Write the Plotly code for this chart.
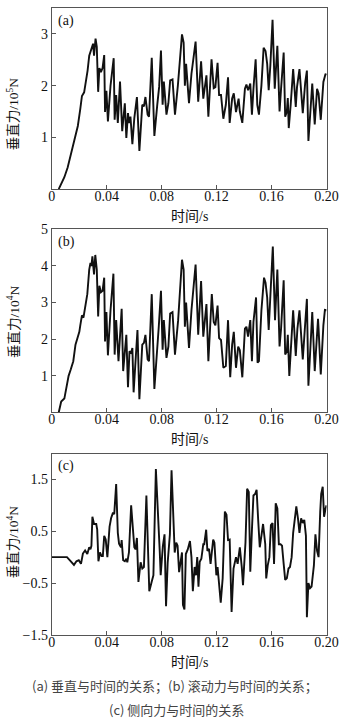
import plotly.graph_objects as go

# Time samples (s) and forces for the three panels
t_a = [0.0051, 0.0092, 0.0116, 0.0150, 0.0190, 0.0208, 0.0220, 0.0236, 0.0250, 0.0261, 0.0273, 0.0289,
       0.0301, 0.0308, 0.0319, 0.0328, 0.0338, 0.0347, 0.0358, 0.0370, 0.0382, 0.0388, 0.0398, 0.0409,
       0.0428, 0.0451, 0.0458, 0.0469, 0.0481, 0.0497, 0.0513, 0.0532, 0.0543, 0.0555, 0.0562, 0.0573,
       0.0587, 0.0601, 0.0620, 0.0638, 0.0659, 0.0671, 0.0682, 0.0698, 0.0708, 0.0728, 0.0747, 0.0768,
       0.0782, 0.0795, 0.0807, 0.0816, 0.0835, 0.0849, 0.0862, 0.0879, 0.0897, 0.0918, 0.0948, 0.0960,
       0.0969, 0.0978, 0.0999, 0.1017, 0.1047, 0.1066, 0.1087, 0.1103, 0.1126, 0.1140, 0.1163, 0.1179,
       0.1191, 0.1207, 0.1218, 0.1232, 0.1249, 0.1267, 0.1283, 0.1295, 0.1313, 0.1325, 0.1341, 0.1360,
       0.1369, 0.1387, 0.1406, 0.1417, 0.1429, 0.1445, 0.1457, 0.1468, 0.1484, 0.1496, 0.1508, 0.1526,
       0.1542, 0.1556, 0.1568, 0.1579, 0.1591, 0.1607, 0.1623, 0.1642, 0.1658, 0.1669, 0.1688, 0.1699,
       0.1711, 0.1718, 0.1725, 0.1739, 0.1757, 0.1776, 0.1785, 0.1803, 0.1817, 0.1827, 0.1845, 0.1857,
       0.1868, 0.1880, 0.1896, 0.1914, 0.1931, 0.1942, 0.1958, 0.1977, 0.1993, 0.2000]
force_a = [0.00, 0.23, 0.42, 0.77, 1.22, 1.55, 1.80, 1.87, 2.07, 2.29, 2.58, 2.72,
           2.81, 2.58, 2.91, 2.75, 1.88, 2.34, 2.26, 2.34, 2.59, 1.49, 1.90, 1.31,
           2.00, 2.53, 1.34, 1.82, 1.28, 2.08, 1.12, 1.66, 0.99, 1.47, 1.28, 1.40,
           0.87, 1.37, 1.78, 0.74, 1.63, 1.60, 1.78, 1.44, 1.40, 2.54, 1.03, 1.63,
           1.98, 2.68, 1.63, 2.08, 1.44, 1.66, 2.10, 2.12, 1.44, 2.00, 2.99, 2.83,
           2.00, 2.42, 1.66, 2.23, 2.85, 1.69, 2.47, 1.75, 2.20, 1.40, 2.51, 1.95,
           1.97, 2.44, 1.82, 1.82, 1.36, 1.63, 2.16, 1.28, 1.75, 1.85, 1.49, 1.75,
           1.50, 1.28, 1.94, 2.02, 1.91, 2.04, 1.44, 1.94, 2.51, 1.63, 1.44, 2.00,
           2.73, 2.67, 2.42, 1.91, 2.39, 3.27, 1.94, 2.77, 1.50, 1.94, 2.64, 1.40,
           1.50, 1.76, 1.18, 1.63, 2.32, 1.59, 1.97, 2.32, 1.75, 1.47, 2.07, 2.29,
           0.93, 1.44, 2.04, 1.25, 1.94, 1.85, 1.34, 2.07, 2.23, 2.20]

t_b = [0.0051, 0.0069, 0.0092, 0.0104, 0.0123, 0.0139, 0.0157, 0.0173, 0.0190, 0.0201, 0.0208, 0.0220,
       0.0231, 0.0243, 0.0259, 0.0273, 0.0282, 0.0289, 0.0296, 0.0308, 0.0317, 0.0328, 0.0338, 0.0347,
       0.0358, 0.0370, 0.0382, 0.0388, 0.0398, 0.0409, 0.0428, 0.0449, 0.0458, 0.0469, 0.0486, 0.0509,
       0.0520, 0.0543, 0.0555, 0.0566, 0.0578, 0.0587, 0.0596, 0.0624, 0.0638, 0.0659, 0.0671, 0.0682,
       0.0698, 0.0708, 0.0728, 0.0747, 0.0768, 0.0779, 0.0795, 0.0807, 0.0816, 0.0835, 0.0849, 0.0862,
       0.0879, 0.0897, 0.0920, 0.0948, 0.0960, 0.0969, 0.0978, 0.0999, 0.1017, 0.1047, 0.1066, 0.1087,
       0.1103, 0.1126, 0.1140, 0.1165, 0.1179, 0.1191, 0.1207, 0.1218, 0.1232, 0.1249, 0.1267, 0.1283,
       0.1299, 0.1313, 0.1325, 0.1341, 0.1357, 0.1369, 0.1387, 0.1406, 0.1417, 0.1429, 0.1445, 0.1457,
       0.1468, 0.1487, 0.1498, 0.1508, 0.1526, 0.1545, 0.1556, 0.1568, 0.1579, 0.1595, 0.1609, 0.1625,
       0.1642, 0.1658, 0.1669, 0.1688, 0.1699, 0.1711, 0.1718, 0.1729, 0.1741, 0.1757, 0.1776, 0.1788,
       0.1803, 0.1815, 0.1827, 0.1843, 0.1857, 0.1868, 0.1880, 0.1896, 0.1914, 0.1938, 0.1942, 0.1958,
       0.1977, 0.1988, 0.2000]
force_b = [0.00, 0.30, 0.38, 0.60, 1.00, 1.18, 1.40, 1.85, 2.03, 2.20, 2.38, 2.65,
           2.59, 2.83, 3.23, 3.90, 4.08, 4.00, 4.26, 3.77, 4.30, 3.90, 2.62, 3.46,
           3.28, 3.32, 3.68, 1.94, 2.74, 1.56, 2.79, 3.79, 1.58, 2.52, 1.40, 2.83,
           1.13, 2.12, 0.69, 1.67, 1.63, 1.76, 0.55, 2.25, 0.36, 1.85, 1.90, 2.12,
           1.45, 1.40, 3.23, 0.64, 1.98, 2.34, 3.32, 1.71, 2.52, 1.49, 1.80, 2.70,
           2.74, 1.58, 2.52, 4.17, 3.90, 2.34, 3.00, 1.76, 2.79, 4.04, 2.12, 3.59,
           2.07, 2.96, 1.40, 3.23, 2.47, 2.38, 2.92, 2.03, 1.98, 1.22, 1.27, 2.52,
           0.96, 1.85, 2.20, 1.22, 1.80, 1.70, 0.96, 2.29, 2.34, 2.07, 2.52, 1.40,
           2.47, 3.14, 1.36, 1.40, 2.79, 3.68, 3.54, 3.14, 2.25, 3.36, 4.53, 2.52,
           3.90, 1.80, 2.29, 3.61, 1.58, 1.67, 2.12, 1.00, 1.90, 2.79, 1.54, 2.29,
           2.79, 2.16, 1.45, 2.34, 3.10, 0.73, 1.71, 2.74, 1.13, 2.56, 2.29, 1.04,
           2.38, 2.80, 2.79]

t_c = [0.0000, 0.0111, 0.0139, 0.0162, 0.0180, 0.0197, 0.0213, 0.0227, 0.0243, 0.0259, 0.0273, 0.0282,
       0.0289, 0.0296, 0.0308, 0.0324, 0.0331, 0.0340, 0.0351, 0.0363, 0.0372, 0.0382, 0.0393, 0.0405,
       0.0421, 0.0432, 0.0446, 0.0455, 0.0469, 0.0481, 0.0490, 0.0504, 0.0509, 0.0520, 0.0532, 0.0543,
       0.0550, 0.0562, 0.0578, 0.0590, 0.0601, 0.0610, 0.0620, 0.0631, 0.0647, 0.0659, 0.0671, 0.0689,
       0.0710, 0.0728, 0.0740, 0.0758, 0.0772, 0.0786, 0.0793, 0.0809, 0.0821, 0.0832, 0.0844, 0.0851,
       0.0860, 0.0872, 0.0883, 0.0895, 0.0906, 0.0916, 0.0927, 0.0936, 0.0948, 0.0955, 0.0966, 0.0976,
       0.0990, 0.1006, 0.1017, 0.1027, 0.1040, 0.1050, 0.1059, 0.1068, 0.1077, 0.1089, 0.1103, 0.1110,
       0.1124, 0.1133, 0.1145, 0.1156, 0.1168, 0.1175, 0.1184, 0.1198, 0.1207, 0.1218, 0.1230, 0.1244,
       0.1260, 0.1272, 0.1283, 0.1295, 0.1309, 0.1323, 0.1341, 0.1353, 0.1369, 0.1383, 0.1392, 0.1410,
       0.1422, 0.1434, 0.1445, 0.1457, 0.1468, 0.1480, 0.1491, 0.1503, 0.1514, 0.1526, 0.1538, 0.1554,
       0.1561, 0.1572, 0.1584, 0.1595, 0.1607, 0.1618, 0.1630, 0.1642, 0.1653, 0.1665, 0.1676, 0.1688,
       0.1699, 0.1711, 0.1723, 0.1734, 0.1746, 0.1757, 0.1769, 0.1780, 0.1792, 0.1803, 0.1815, 0.1827,
       0.1838, 0.1850, 0.1857, 0.1868, 0.1880, 0.1891, 0.1908, 0.1919, 0.1931, 0.1942, 0.1954, 0.1961,
       0.1972, 0.1982, 0.1993, 0.2000]
force_c = [0.00, 0.00, -0.08, -0.15, -0.08, -0.06, -0.13, 0.07, 0.13, 0.06, 0.19, 0.15,
           0.22, 0.78, 0.64, 0.64, 0.53, -0.08, 0.09, 0.02, 0.02, 0.41, 0.34, 0.00,
           0.59, 0.75, 0.86, 0.83, 1.41, 0.47, 0.26, 0.19, 0.33, -0.06, -0.08, -0.03,
           -0.10, 0.09, 1.00, 0.50, 0.19, 0.15, 0.37, -0.48, -0.10, -0.22, -0.19, 1.19,
           -0.66, -0.47, -0.35, 1.70, 0.72, 0.12, -0.35, 0.22, 0.44, -0.95, -0.10, 0.10,
           0.44, 1.68, 0.78, 0.09, 0.28, 0.22, -0.29, -0.16, 0.09, -0.92, -1.01, 0.06,
           0.15, 0.31, 0.00, -0.66, -0.19, -0.35, 0.00, -0.57, -0.09, -0.03, 0.25, 0.25,
           0.53, 0.12, 0.16, -0.13, 0.12, 0.34, 0.28, -0.35, -0.19, -0.48, -0.88, -0.41,
           0.88, 0.82, 0.33, 0.34, -1.06, -0.22, 0.00, -0.13, 0.19, -0.19, -0.54, 0.28,
           1.32, 1.26, -0.28, 0.53, 1.19, 1.22, 1.30, 0.69, 0.19, 0.41, 0.64, 0.25,
           -0.41, -0.16, 0.00, 0.62, 0.66, -0.13, 1.04, 0.94, 0.25, 0.25, 0.22, -0.13,
           -0.44, -0.41, -0.22, -0.19, 0.00, 0.47, 0.72, 0.98, 0.75, 0.47, 0.75, 0.66,
           0.72, 0.41, -1.16, -0.50, -0.60, -0.57, -0.16, 0.44, 0.12, 0.00, 0.88, 1.22,
           1.36, 0.78, 0.94, 1.00]

x_ticks = [0, 0.04, 0.08, 0.12, 0.16, 0.20]
x_tick_text = ["0", "0.04", "0.08", "0.12", "0.16", "0.20"]
y_ticks_a = [1, 2, 3]
y_ticks_b = [1, 2, 3, 4, 5]
y_ticks_c = [-1.5, -0.5, 0.5, 1.5]
y_tick_text_c = ["\u22121.5", "\u22120.5", "0.5", "1.5"]

panel_labels = ["(a)", "(b)", "(c)"]
x_title = "时间/s"
y_titles = ["垂直力/10<sup>5</sup>N", "垂直力/10<sup>4</sup>N", "垂直力/10<sup>4</sup>N"]
caption_1 = "(a) 垂直与时间的关系；(b) 滚动力与时间的关系；"
caption_2 = "(c) 侧向力与时间的关系"

W, H = 350, 728
SERIF = "Liberation Serif, Times New Roman, Noto Sans CJK SC, serif"
CJK = "Liberation Serif, Noto Sans CJK SC, sans-serif"

x_dom = [50 / W, 338 / W]
# (top px, bottom px) of each panel and the centre of its y title
panel_px = [(1, 186), (227, 414), (456, 641)]
y_title_mid = [110, 322, 547]
y_doms = [[1 - b / H, 1 - t / H] for t, b in panel_px]

fig = go.Figure()
series = [(t_a, force_a), (t_b, force_b), (t_c, force_c)]
for i, (tx, fy) in enumerate(series):
    sfx = "" if i == 0 else str(i + 1)
    fig.add_trace(go.Scatter(x=tx, y=fy, mode="lines", xaxis="x" + sfx, yaxis="y" + sfx,
                             line=dict(color="#111111", width=1.9), showlegend=False))

axis_common = dict(showline=True, linecolor="#555555", linewidth=1, mirror=True,
                   ticks="inside", ticklen=4, tickcolor="#555555", showgrid=False,
                   zeroline=False, ticklabeloverflow="allow",
                   tickfont=dict(family=SERIF, size=14, color="#111111"))

layout = dict(width=W, height=H, margin=dict(l=0, r=0, t=0, b=0),
              paper_bgcolor="white", plot_bgcolor="white", annotations=[])
y_specs = [(y_ticks_a, [str(v) for v in y_ticks_a], [0, 3.5]),
           (y_ticks_b, [str(v) for v in y_ticks_b], [0, 5]),
           (y_ticks_c, y_tick_text_c, [-1.5, 2.0])]
for i in range(3):
    sfx = "" if i == 0 else str(i + 1)
    yv, yt, yr = y_specs[i]
    layout["xaxis" + sfx] = dict(axis_common, domain=x_dom, anchor="y" + sfx, range=[0, 0.2],
                                 tickvals=x_ticks, ticktext=x_tick_text, ticklabelstandoff=-6)
    layout["yaxis" + sfx] = dict(axis_common, domain=y_doms[i], anchor="x" + sfx, range=yr,
                                 tickvals=yv, ticktext=yt)
    top, bot = panel_px[i]
    # x-axis title
    layout["annotations"].append(dict(text=x_title, xref="paper", yref="paper",
                                      x=(x_dom[0] + x_dom[1]) / 2, y=1 - (bot + 28) / H,
                                      showarrow=False, xanchor="center", yanchor="middle",
                                      font=dict(family=CJK, size=14, color="#111111")))
    # y-axis title
    layout["annotations"].append(dict(text=y_titles[i], xref="paper", yref="paper",
                                      x=10 / W, y=1 - y_title_mid[i] / H, textangle=-90,
                                      showarrow=False, xanchor="center", yanchor="middle",
                                      font=dict(family=CJK, size=13.5, color="#111111")))
    # panel label
    layout["annotations"].append(dict(text=panel_labels[i], xref="paper", yref="paper",
                                      x=54 / W, y=1 - (top + 13) / H, showarrow=False,
                                      xanchor="left", yanchor="middle",
                                      font=dict(family=SERIF, size=14, color="#111111")))

layout["annotations"].append(dict(text=caption_1, xref="paper", yref="paper",
                                  x=179.5 / W, y=1 - 693 / H, showarrow=False,
                                  xanchor="center", yanchor="middle",
                                  font=dict(family="Noto Sans CJK SC, sans-serif", size=13,
                                            color="#444444")))
layout["annotations"].append(dict(text=caption_2, xref="paper", yref="paper",
                                  x=181 / W, y=1 - 717 / H, showarrow=False,
                                  xanchor="center", yanchor="middle",
                                  font=dict(family="Noto Sans CJK SC, sans-serif", size=13,
                                            color="#444444")))

fig.update_layout(**layout)
fig.write_html("out.html")
